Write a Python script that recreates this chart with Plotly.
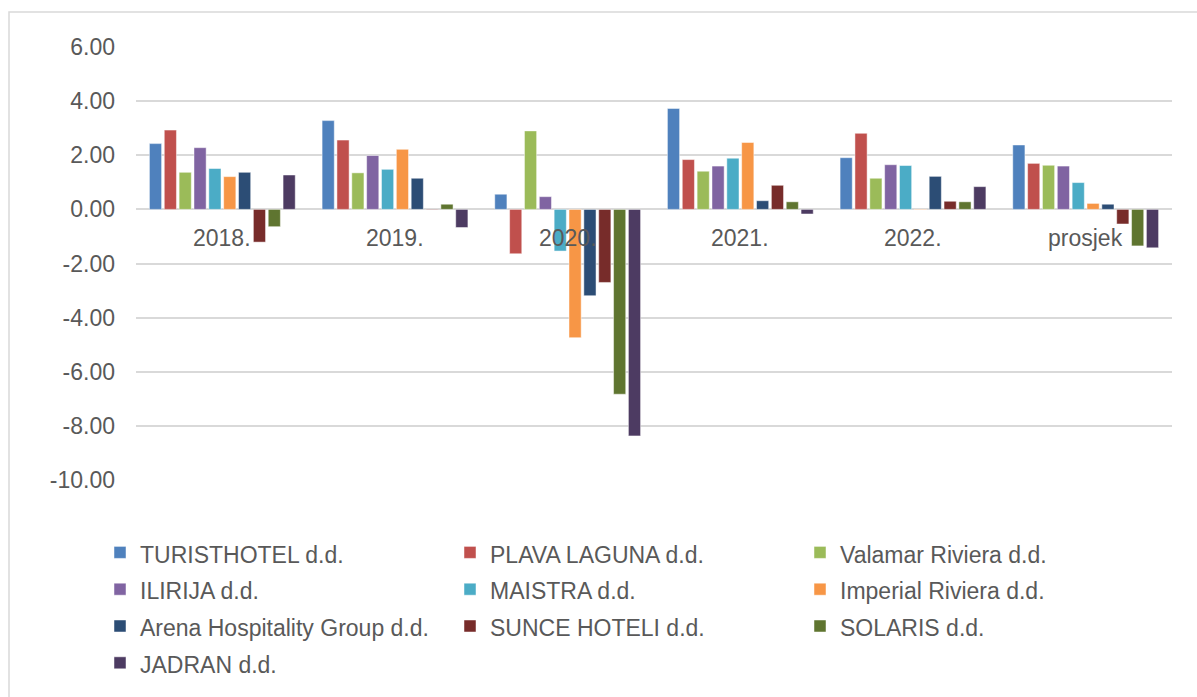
import plotly.graph_objects as go

categories = ["2018.", "2019.", "2020.", "2021.", "2022.", "prosjek"]

companies = [
    "TURISTHOTEL d.d.", "PLAVA LAGUNA d.d.", "Valamar Riviera d.d.",
    "ILIRIJA d.d.", "MAISTRA d.d.", "Imperial Riviera d.d.",
    "Arena Hospitality Group d.d.", "SUNCE HOTELI d.d.", "SOLARIS d.d.",
    "JADRAN d.d.",
]

turisthotel = [2.43, 3.28, 0.56, 3.73, 1.91, 2.38]
plava_laguna = [2.93, 2.56, -1.64, 1.84, 2.81, 1.70]
valamar = [1.37, 1.35, 2.90, 1.41, 1.15, 1.63]
ilirija = [2.28, 1.99, 0.47, 1.60, 1.65, 1.60]
maistra = [1.51, 1.48, -1.54, 1.89, 1.62, 0.99]
imperial = [1.21, 2.22, -4.74, 2.47, -0.02, 0.22]
arena = [1.37, 1.15, -3.19, 0.32, 1.22, 0.19]
sunce = [-1.21, -0.02, -2.70, 0.89, 0.30, -0.54]
solaris = [-0.64, 0.19, -6.83, 0.28, 0.28, -1.35]
jadran = [1.27, -0.67, -8.37, -0.17, 0.84, -1.42]

series = [turisthotel, plava_laguna, valamar, ilirija, maistra, imperial,
          arena, sunce, solaris, jadran]

colors = ["#4F81BD", "#C0504D", "#9BBB59", "#8064A2", "#4BACC6", "#F79646",
          "#2C4D75", "#772C2A", "#5F7530", "#4D3B62"]

y_ticks = [6, 4, 2, 0, -2, -4, -6, -8, -10]

FONT = "Liberation Sans, Arial"
TXT = "#595959"
FS = 23

fig = go.Figure()
for name, vals, col in zip(companies, series, colors):
    fig.add_trace(go.Bar(
        x=categories, y=vals,
        name=f"<span style='font-size:{FS}px'>{name}</span>",
        marker=dict(color=col, line=dict(color="rgba(255,255,255,0.6)", width=0.8)),
    ))

W, H = 1197, 697
L, R, T, B = 136, 25, 47, 217
pw = W - L - R
ph = H - T - B

for i, c in enumerate(categories):
    fig.add_annotation(x=i, y=-1.05, xref="x", yref="y", text=c, showarrow=False,
                       font=dict(family=FONT, size=FS, color=TXT),
                       xanchor="center", yanchor="middle")

# chart border
fig.add_shape(type="rect", xref="paper", yref="paper",
              x0=(9 - L) / pw, x1=(W + 5 - L) / pw,
              y0=-(H + 5 - T - ph) / ph, y1=(ph + T - 12) / ph,
              line=dict(color="#D9D9D9", width=1.5), layer="below")

fig.update_layout(
    width=W, height=H,
    margin=dict(l=L, r=R, t=T, b=B, autoexpand=False),
    paper_bgcolor="white", plot_bgcolor="white",
    barmode="group", bargap=0.14, bargroupgap=0.18,
    font=dict(family=FONT, size=FS, color=TXT),
    showlegend=True,
    legend=dict(orientation="h", x=(100 - L) / pw, xanchor="left",
                y=-(529 - T - ph) / ph, yanchor="top",
                entrywidth=305, entrywidthmode="pixels",
                font=dict(family=FONT, size=26, color=TXT),
                itemwidth=30, traceorder="normal"),
    xaxis=dict(type="category", range=[-0.5, len(categories) - 0.5],
               showticklabels=False, showgrid=False, zeroline=False,
               showline=False, ticks=""),
    yaxis=dict(range=[-10, 6], tickvals=y_ticks,
               ticktext=[f"{v:.2f}" for v in y_ticks],
               showgrid=True, gridcolor="#D9D9D9", gridwidth=1.5,
               zeroline=True, zerolinecolor="#D9D9D9", zerolinewidth=1.5,
               showline=False, ticks="", ticklabelstandoff=20,
               tickfont=dict(family=FONT, size=FS, color=TXT)),
)

fig.write_html("out.html", config={"displayModeBar": False},
               post_script="document.body.style.margin='0';")
